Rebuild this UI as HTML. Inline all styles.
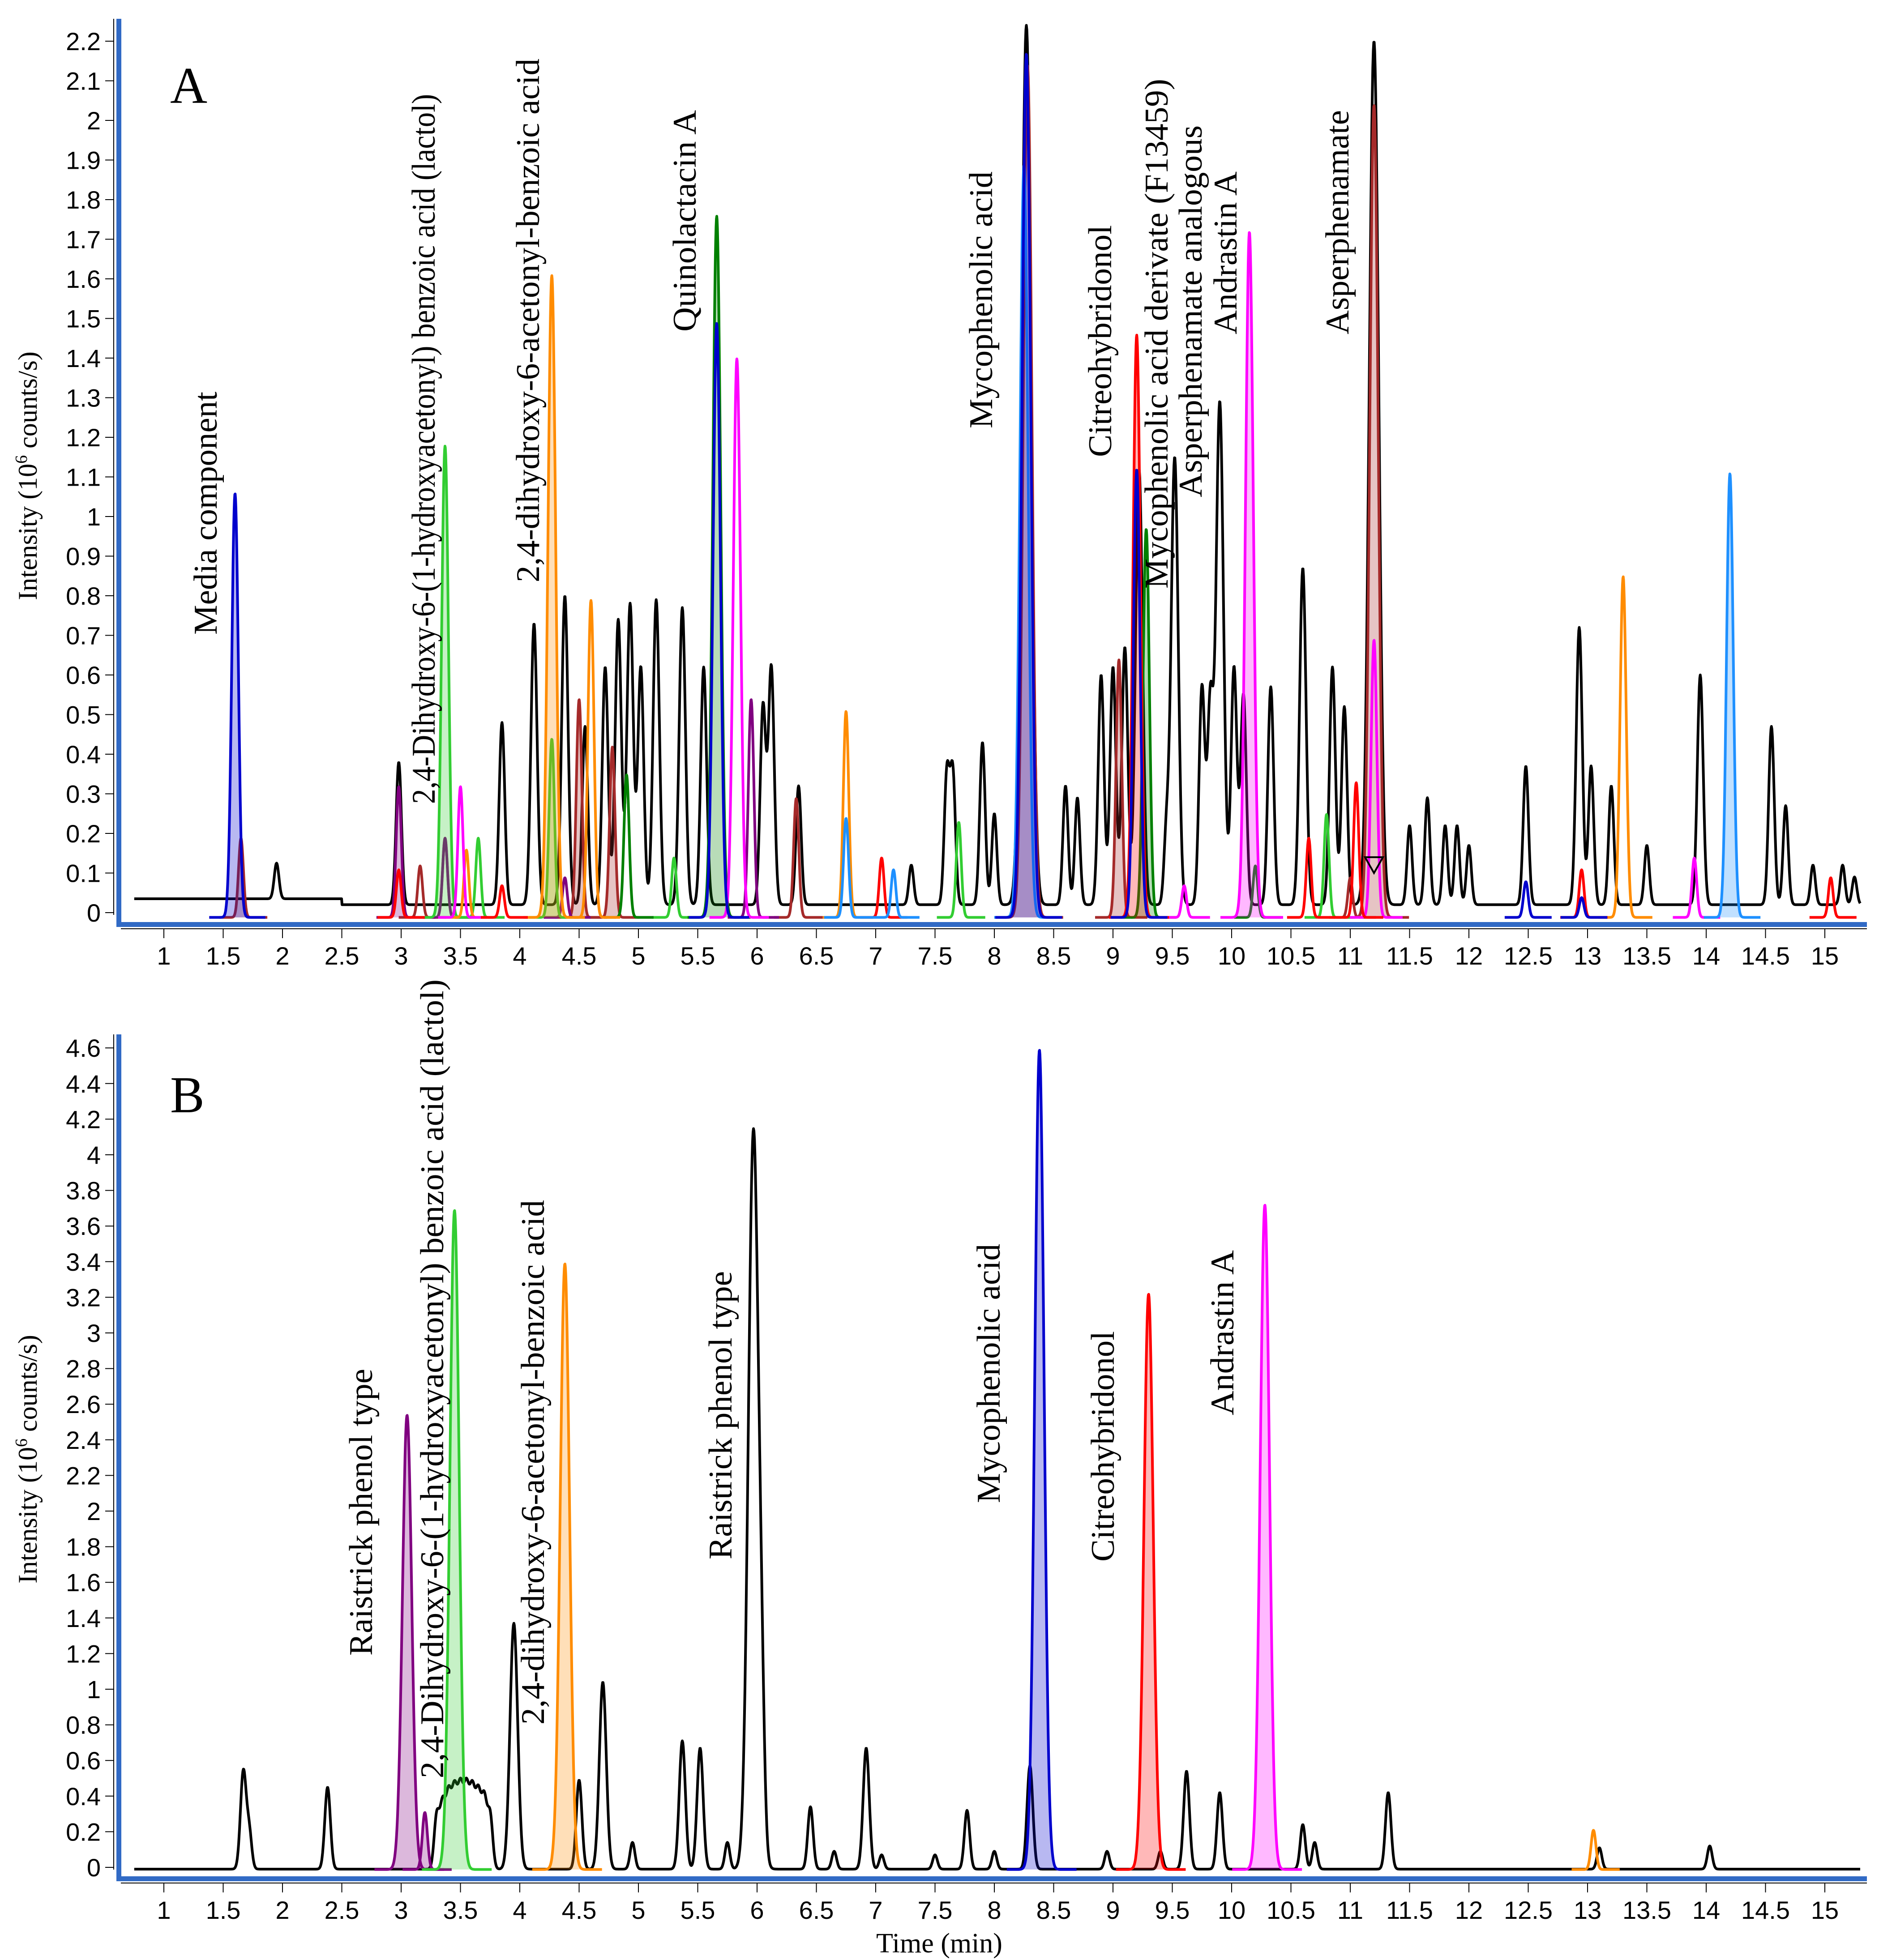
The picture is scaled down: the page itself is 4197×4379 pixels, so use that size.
<!DOCTYPE html>
<html><head><meta charset="utf-8">
<style>
html,body{margin:0;padding:0;background:#fff;}
svg{display:block;}
.tk{font-family:"Liberation Sans Narrow","Liberation Sans",sans-serif;font-size:56px;fill:#000;}
.ann{font-family:"Liberation Serif",serif;font-size:74px;fill:#000;}
</style></head>
<body>
<svg id="chart" width="4197" height="4379" viewBox="0 0 4197 4379" xmlns="http://www.w3.org/2000/svg">
<rect width="4197" height="4379" fill="#fff"/>
<g id="panelA"></g>
<g id="panelB"></g>
<text x="380" y="230" font-family="Liberation Serif, serif" font-size="115">A</text>
<text x="380" y="2485" font-family="Liberation Serif, serif" font-size="115">B</text>
<text x="2098" y="4362" text-anchor="middle" font-family="Liberation Serif, serif" font-size="62">Time (min)</text>
<text transform="translate(82,1063) rotate(-90)" text-anchor="middle" font-family="Liberation Serif, serif" font-size="60">Intensity (10<tspan font-size="38" dy="-22">6</tspan><tspan dy="22"> counts/s)</tspan></text>
<text transform="translate(82,3260) rotate(-90)" text-anchor="middle" font-family="Liberation Serif, serif" font-size="60">Intensity (10<tspan font-size="38" dy="-22">6</tspan><tspan dy="22"> counts/s)</tspan></text>
</svg>
<script>
// ---- data ----
const xTicks = [1,1.5,2,2.5,3,3.5,4,4.5,5,5.5,6,6.5,7,7.5,8,8.5,9,9.5,10,10.5,11,11.5,12,12.5,13,13.5,14,14.5,15];
const yTicksA = [0,0.1,0.2,0.3,0.4,0.5,0.6,0.7,0.8,0.9,1,1.1,1.2,1.3,1.4,1.5,1.6,1.7,1.8,1.9,2,2.1,2.2];
const yTicksB = [0,0.2,0.4,0.6,0.8,1,1.2,1.4,1.6,1.8,2,2.2,2.4,2.6,2.8,3,3.2,3.4,3.6,3.8,4,4.2,4.4,4.6];

// Panel A TIC
const ticA_t = [1.95,2.98,3.85,4.12,4.38,4.55,4.72,4.83,4.93,5.02,5.15,5.37,5.55,6.05,6.12,6.35,7.3,7.6,7.65,7.9,8.0,8.27,8.6,8.7,8.9,9.0,9.1,9.22,9.45,9.52,9.75,9.82,9.9,10.02,10.1,10.33,10.6,10.85,10.95,11.2,11.5,11.65,11.8,11.9,12.0,12.48,12.93,13.03,13.2,13.5,13.95,14.55,14.67,14.9,15.15,15.25];
const ticA_h = [0.09,0.36,0.46,0.71,0.78,0.45,0.6,0.72,0.76,0.6,0.77,0.75,0.6,0.5,0.6,0.3,0.1,0.33,0.33,0.41,0.23,2.22,0.3,0.27,0.58,0.6,0.65,1.1,0.17,1.13,0.55,0.5,1.27,0.6,0.53,0.55,0.85,0.6,0.5,2.18,0.2,0.27,0.2,0.2,0.15,0.35,0.7,0.35,0.3,0.15,0.58,0.45,0.25,0.1,0.1,0.07];
// Panel A EICs (times, heights)
const aBlue_t=[1.6,5.66,8.27,9.2,12.48,12.95]; const aBlue_h=[1.07,1.5,2.18,1.13,0.09,0.05];
const aBrown_t=[1.65,3.16,3.37,4.5,4.78,6.33,8.28,9.05,11.0,11.2]; const aBrown_h=[0.2,0.13,0.2,0.55,0.43,0.3,2.15,0.65,0.1,2.05];
const aPurple_t=[2.98,3.37,4.38,5.95]; const aPurple_h=[0.33,0.2,0.1,0.55];
const aLGreen_t=[3.37,3.65,4.27,5.3,7.7,10.8]; const aLGreen_h=[1.19,0.2,0.45,0.15,0.24,0.26];
const aDGreen_t=[4.9,5.66,9.28,10.2]; const aDGreen_h=[0.36,1.77,0.98,0.13];
const aOrange_t=[3.55,4.27,4.6,6.75,13.3]; const aOrange_h=[0.17,1.62,0.8,0.52,0.86];
const aMag_t=[3.5,5.83,9.6,10.15,11.2,13.9]; const aMag_h=[0.33,1.41,0.08,1.73,0.7,0.15];
const aRed_t=[2.98,3.85,7.05,9.2,10.65,11.05,12.95,15.05]; const aRed_h=[0.12,0.08,0.15,1.47,0.2,0.34,0.12,0.1];
const aSky_t=[6.75,7.15,8.25,14.2]; const aSky_h=[0.25,0.12,1.9,1.12];

// Panel B TIC
const ticB_t=[1.67,1.72,2.38,3.3,3.35,3.4,3.45,3.5,3.55,3.6,3.65,3.7,3.75,3.95,4.5,4.7,4.95,5.37,5.52,5.75,5.97,6.04,6.45,6.65,6.92,7.05,7.5,7.77,8.0,8.3,8.95,9.4,9.62,9.9,10.6,10.7,11.32,13.1,14.03];
const ticB_h=[0.55,0.2,0.46,0.3,0.35,0.4,0.42,0.43,0.43,0.42,0.4,0.38,0.3,1.38,0.5,1.05,0.15,0.72,0.68,0.15,4.15,0.5,0.35,0.1,0.68,0.08,0.08,0.33,0.1,0.58,0.1,0.1,0.55,0.43,0.25,0.15,0.43,0.12,0.13];
const bPurple_t=[3.05,3.2]; const bPurple_h=[2.55,0.32];
const bGreen_t=[3.45]; const bGreen_h=[3.7];
const bOrange_t=[4.38,13.05]; const bOrange_h=[3.4,0.22];
const bBlue_t=[8.38]; const bBlue_h=[4.6];
const bRed_t=[9.3]; const bRed_h=[3.23];
const bMag_t=[10.28]; const bMag_h=[3.73];

// ---- scales ----
const X = t => 101 + t*265;
const YA = v => 2039 - v*885;
const YB = v => 4172 - v*398;
const NS="http://www.w3.org/2000/svg";
function mk(tag, parent){const e=document.createElementNS(NS,tag);parent.appendChild(e);return e;}
function sig(h,scale){return 0.019+0.008*Math.min(h,2.5)*scale;}
function gsum(ts,hs,t,scale){let s=0;for(let i=0;i<ts.length;i++){const sg=sig(hs[i],scale);const d=(t-ts[i])/sg;if(Math.abs(d)<6)s+=hs[i]*Math.exp(-0.5*d*d);}return s;}

function axes(g, Y, yTicks, top, bottom, blueBottom, axisY){
  const bl=mk('rect',g);
  
  
  bl.setAttribute('x',260);bl.setAttribute('y',top);bl.setAttribute('width',11);bl.setAttribute('height',blueBottom-top+6);bl.setAttribute('fill','#316ac5');
  const bb=mk('rect',g);
  
  
  bb.setAttribute('x',260);bb.setAttribute('y',blueBottom-5);bb.setAttribute('width',4170-260);bb.setAttribute('height',11);bb.setAttribute('fill','#316ac5');
  const yl=mk('line',g);
  
  
  yl.setAttribute('x1',254);yl.setAttribute('x2',254);yl.setAttribute('y1',top);yl.setAttribute('y2',Y(0)+5);yl.setAttribute('stroke','#000');yl.setAttribute('stroke-width',2);
  yTicks.forEach(v=>{
    const l=mk('line',g);
    
    
    l.setAttribute('x1',235);l.setAttribute('x2',254);l.setAttribute('y1',Y(v));l.setAttribute('y2',Y(v));l.setAttribute('stroke','#000');l.setAttribute('stroke-width',2);
    const tx=mk('text',g);
    
    
    tx.setAttribute('class','tk');tx.setAttribute('x',225);tx.setAttribute('y',Y(v)+20);tx.setAttribute('text-anchor','end');
    tx.textContent=String(Math.round(v*10)/10);
  });
  const xl=mk('line',g);
  
  
  xl.setAttribute('x1',270);xl.setAttribute('x2',4170);xl.setAttribute('y1',axisY);xl.setAttribute('y2',axisY);xl.setAttribute('stroke','#000');xl.setAttribute('stroke-width',2);
  xTicks.forEach(t=>{
    const l=mk('line',g);
    
    
    l.setAttribute('x1',X(t));l.setAttribute('x2',X(t));l.setAttribute('y1',axisY);l.setAttribute('y2',axisY+21);l.setAttribute('stroke','#000');l.setAttribute('stroke-width',2);
    const tx=mk('text',g);
    
    
    tx.setAttribute('class','tk');tx.setAttribute('x',X(t));tx.setAttribute('y',axisY+80);tx.setAttribute('text-anchor','middle');
    tx.textContent=String(t);
  });
}

function tic(g,Y,ts,hs,base,t0,t1,name){
  let d='';
  for(let t=t0;t<=t1;t+=0.004){
    const b=(typeof base==='function')?base(t):base;
    const v=b+gsum(ts,hs,t,1.2);
    d+=(d?'L':'M')+X(t).toFixed(1)+','+Y(v).toFixed(1);
  }
  const p=mk('path',g);
  
  
  p.setAttribute('d',d);p.setAttribute('fill','none');p.setAttribute('stroke','#000');p.setAttribute('stroke-width',6);p.setAttribute('stroke-linejoin','round');
}

function eic(g,Y,ts,hs,color,fillIdx,name){
  for(let i=0;i<ts.length;i++){
    const sg=sig(hs[i],1);
    const a=ts[i]-5*sg-0.08,b=ts[i]+5*sg+0.12;
    let pts=[];
    for(let t=a;t<=b;t+=0.003){
      const d0=(t-ts[i])/sg;
      const v=-0.012+hs[i]*Math.exp(-0.5*d0*d0);
      pts.push([X(t),Y(v)]);
    }
    const d=pts.map((p,k)=>(k?'L':'M')+p[0].toFixed(1)+','+p[1].toFixed(1)).join('');
    if(fillIdx.indexOf(i)>=0){
      const f=mk('path',g);
      
      
      f.setAttribute('d',d+'Z');f.setAttribute('fill',color);f.setAttribute('fill-opacity',0.28);f.setAttribute('stroke','none');
    }
    const p=mk('path',g);
    
    
    p.setAttribute('d',d);p.setAttribute('fill','none');p.setAttribute('stroke',color);p.setAttribute('stroke-width',6);p.setAttribute('stroke-linejoin','round');
  }
}

function ann(g,x,y,len,txt,name){
  const t=mk('text',g);
  
  
  t.setAttribute('class','ann');
  t.setAttribute('transform','translate('+x+','+y+') rotate(-90)');
  t.setAttribute('textLength',len);
  t.setAttribute('lengthAdjust','spacingAndGlyphs');
  t.textContent=txt;
}

const gA=document.getElementById('panelA');
const gB=document.getElementById('panelB');
axes(gA,YA,yTicksA,42,2065,2065,2075);
axes(gB,YB,yTicksB,2311,4197,4197,4207);

// panel A series
tic(gA,YA,ticA_t,ticA_h,t=>t<2.5?0.035:0.02,0.75,15.3,'tic-a-line');
eic(gA,YA,aBrown_t,aBrown_h,'#a52a2a',[0,3,4,6,7,9],'eic-a-brown');
eic(gA,YA,aPurple_t,aPurple_h,'#800080',[0],'eic-a-purple');
eic(gA,YA,aLGreen_t,aLGreen_h,'#32cd32',[0,2],'eic-a-lightgreen');
eic(gA,YA,aDGreen_t,aDGreen_h,'#008000',[1,2],'eic-a-darkgreen');
eic(gA,YA,aOrange_t,aOrange_h,'#ff8c00',[1],'eic-a-orange');
eic(gA,YA,aMag_t,aMag_h,'#ff00ff',[3],'eic-a-magenta');
eic(gA,YA,aRed_t,aRed_h,'#ff0000',[3],'eic-a-red');
eic(gA,YA,aSky_t,aSky_h,'#1e90ff',[3],'eic-a-skyblue');
eic(gA,YA,aBlue_t,aBlue_h,'#0000cd',[0,2],'eic-a-blue');

// panel B series
tic(gB,YB,ticB_t,ticB_h,-0.01,0.75,15.3,'tic-b-line');
eic(gB,YB,bPurple_t,bPurple_h,'#800080',[0,1],'eic-b-purple');
eic(gB,YB,bGreen_t,bGreen_h,'#32cd32',[0],'eic-b-green');
eic(gB,YB,bOrange_t,bOrange_h,'#ff8c00',[0],'eic-b-orange');
eic(gB,YB,bBlue_t,bBlue_h,'#0000cd',[0],'eic-b-blue');
eic(gB,YB,bRed_t,bRed_h,'#ff0000',[0],'eic-b-red');
eic(gB,YB,bMag_t,bMag_h,'#ff00ff',[0],'eic-b-magenta');

// annotations A
ann(gA,484,1418,543,'Media component','label-media-component');
ann(gA,971,1796,1586,'2,4-Dihydroxy-6-(1-hydroxyacetonyl) benzoic acid (lactol)','label-lactol-a');
ann(gA,1204,1301,1170,'2,4-dihydroxy-6-acetonyl-benzoic acid','label-acetonyl-a');
ann(gA,1554,741,495,'Quinolactacin A','label-quinolactacin');
ann(gA,2216,957,574,'Mycophenolic acid','label-mycophenolic-a');
ann(gA,2482,1021,518,'Citreohybridonol','label-citreohybridonol-a');
ann(gA,2608,1315,1139,'Mycophenolic acid derivate (F13459)','label-mpa-derivate');
ann(gA,2684,1111,831,'Asperphenamate analogous','label-asperphenamate-analogous');
ann(gA,2762,747,364,'Andrastin A','label-andrastin-a');
ann(gA,3012,747,501,'Asperphenamate','label-asperphenamate');
// annotations B
ann(gB,831,3699,641,'Raistrick phenol type','label-raistrick-1');
ann(gB,990,3973,1785,'2,4-Dihydroxy-6-(1-hydroxyacetonyl) benzoic acid (lactol)','label-lactol-b');
ann(gB,1215,3853,1172,'2,4-dihydroxy-6-acetonyl-benzoic acid','label-acetonyl-b');
ann(gB,1634,3484,644,'Raistrick phenol type','label-raistrick-2');
ann(gB,2233,3358,579,'Mycophenolic acid','label-mycophenolic-b');
ann(gB,2488,3489,515,'Citreohybridonol','label-citreohybridonol-b');
ann(gB,2755,3162,369,'Andrastin A','label-andrastin-b');

// small marker triangle in A
const tri=mk('path',gA);


tri.setAttribute('d','M'+(X(11.2)-20)+','+(YA(0.14))+'L'+(X(11.2)+20)+','+(YA(0.14))+'L'+X(11.2)+','+(YA(0.1))+'Z');
tri.setAttribute('fill','none');tri.setAttribute('stroke','#000');tri.setAttribute('stroke-width',4);
</script>
</body></html>
